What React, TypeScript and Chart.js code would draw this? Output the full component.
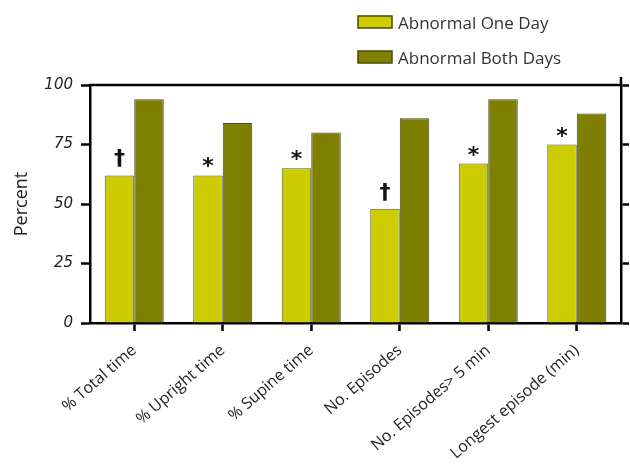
import React, { useEffect, useRef } from "react";
import { Chart, registerables } from "chart.js";

Chart.register(...registerables);

const categories = [
  "% Total time",
  "% Upright time",
  "% Supine time",
  "No. Episodes",
  "No. Episodes> 5 min",
  "Longest episode (min)",
];
const seriesNames = ["Abnormal One Day", "Abnormal Both Days"];
const abnormalOneDay = [62, 62, 65, 48, 67, 75];
const abnormalBothDays = [94, 84, 80, 86, 94, 88];
const significanceMarks = ["†", "*", "*", "†", "*", "*"];
const yTickValues = [0, 25, 50, 75, 100];

const colors = ["#CCCC00", "#7F7F00"];

const frameAndLegend = {
  id: "frameAndLegend",
  afterDraw(chart: any) {
    const ctx = chart.ctx;
    const a = chart.chartArea;
    ctx.save();
    ctx.strokeStyle = "#000";
    ctx.lineWidth = 2.5;
    ctx.beginPath();
    ctx.moveTo(a.left, a.top);
    ctx.lineTo(a.right, a.top);
    ctx.moveTo(a.right, a.top - 8);
    ctx.lineTo(a.right, a.top);
    ctx.stroke();

    chart.data.datasets.forEach((ds: any, i: number) => {
      const x = 358;
      const y = 16 + i * 35;
      ctx.fillStyle = ds.backgroundColor;
      ctx.fillRect(x, y, 34, 12);
      ctx.strokeStyle = "#4a4a00";
      ctx.lineWidth = 1.5;
      ctx.strokeRect(x, y, 34, 12);
      ctx.fillStyle = "#333";
      ctx.font = "17px 'Open Sans'";
      ctx.textAlign = "left";
      ctx.textBaseline = "middle";
      ctx.fillText(ds.label, 398, y + 8);
    });
    ctx.restore();
  },
};

const marksPlugin = {
  id: "marks",
  afterDatasetsDraw(chart: any) {
    const ctx = chart.ctx;
    const meta = chart.getDatasetMeta(0);
    ctx.save();
    ctx.fillStyle = "#111";
    ctx.textAlign = "center";
    ctx.textBaseline = "alphabetic";
    meta.data.forEach((el: any, i: number) => {
      const s = significanceMarks[i];
      ctx.font = "bold 22px 'DejaVu Sans'";
      const m = ctx.measureText(s);
      ctx.fillText(s, el.x, el.y - 8 - m.actualBoundingBoxDescent);
    });
    ctx.restore();
  },
};

export default function App() {
  const ref = useRef<HTMLCanvasElement | null>(null);
  useEffect(() => {
    if (!ref.current) return;
    const chart = new Chart(ref.current, {
      type: "bar",
      data: {
        labels: categories,
        datasets: [
          {
            label: seriesNames[0],
            data: abnormalOneDay,
            backgroundColor: colors[0],
            borderColor: "#555",
            borderWidth: 1,
            barPercentage: 1,
            categoryPercentage: 0.667,
          },
          {
            label: seriesNames[1],
            data: abnormalBothDays,
            backgroundColor: colors[1],
            borderColor: "#444",
            borderWidth: 1,
            barPercentage: 1,
            categoryPercentage: 0.667,
          },
        ],
      },
      options: {
        responsive: false,
        animation: false,
        devicePixelRatio: 1,
        layout: { padding: { top: 85, left: 0, right: 0, bottom: 0 } },
        plugins: {
          legend: { display: false },
          tooltip: { enabled: false },
        },
        scales: {
          x: {
            offset: true,
            grid: {
              drawOnChartArea: false,
              drawTicks: true,
              tickLength: 8,
              tickWidth: 2.5,
              tickColor: "#000",
              offset: false,
            },
            border: { display: true, color: "#000", width: 2.5 },
            ticks: {
              font: { family: "Open Sans", size: 16 },
              color: "#222",
              minRotation: 41,
              maxRotation: 41,
              autoSkip: false,
              padding: 10,
            },
            afterFit: (s: any) => {
              s.height = 146;
            },
          },
          y: {
            min: 0,
            max: 100,
            afterBuildTicks: (s: any) => {
              s.ticks = yTickValues.map((v) => ({ value: v }));
            },
            ticks: {
              stepSize: 25,
              font: { family: "DejaVu Sans", style: "italic", size: 15 },
              color: "#222",
              padding: 8,
            },
            grid: {
              drawOnChartArea: false,
              tickLength: 9,
              tickWidth: 2.5,
              tickColor: "#000",
            },
            border: { display: true, color: "#000", width: 2.5 },
            title: {
              display: true,
              text: "Percent",
              font: { family: "Open Sans", size: 18 },
              color: "#222",
              padding: { top: 11, bottom: 0 },
            },
            afterFit: (s: any) => {
              s.width = 90;
            },
          },
          y2: {
            position: "right",
            min: 0,
            max: 100,
            afterBuildTicks: (s: any) => {
              s.ticks = yTickValues.map((v) => ({ value: v }));
            },
            ticks: { display: false, stepSize: 25 },
            grid: {
              drawOnChartArea: false,
              tickLength: 8,
              tickWidth: 2.5,
              tickColor: "#000",
            },
            border: { display: true, color: "#000", width: 2.5 },
            afterFit: (s: any) => {
              s.width = 9;
            },
          },
        },
      },
      plugins: [frameAndLegend, marksPlugin],
    } as any);
    return () => chart.destroy();
  }, []);
  return (
    <div style={{ position: "fixed", left: 0, top: 0, width: 630, height: 469, background: "#fff" }}>
      <canvas ref={ref} width={630} height={469} />
    </div>
  );
}
